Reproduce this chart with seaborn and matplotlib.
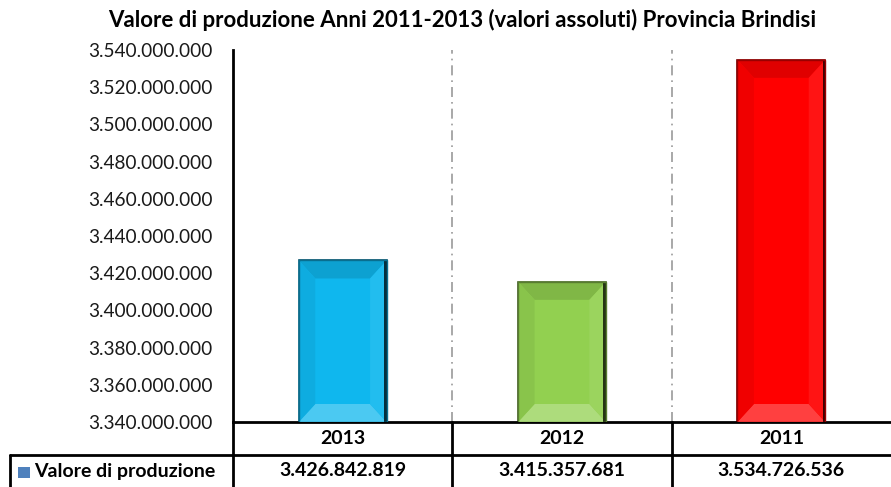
import numpy as np
import pandas as pd
import matplotlib
matplotlib.use("Agg")
import matplotlib.pyplot as plt
import matplotlib.transforms as mtransforms
from matplotlib.lines import Line2D
from matplotlib.patches import Polygon, Rectangle
import seaborn as sns

# ── Data ─────────────────────────────────────────────────
years  = ["2013", "2012", "2011"]
values = [3426842819, 3415357681, 3534726536]
colors = ["#0fb7ee", "#92d050", "#ff0000"]
series_name = "Valore di produzione"
title = "Valore di produzione Anni 2011-2013 (valori assoluti) Provincia Brindisi"
y_min, y_max, y_step = 3340000000, 3540000000, 20000000


def it_fmt(v):
    return f"{v:,.0f}".replace(",", ".")


def shade(c, f):
    r, g, b = matplotlib.colors.to_rgb(c)
    if f < 1:
        return (r * f, g * f, b * f)
    return (r + (1 - r) * (f - 1), g + (1 - g) * (f - 1), b + (1 - b) * (f - 1))


sns.set_theme(style="white")
plt.rcParams["font.family"] = ["Lato", "DejaVu Sans"]

df = pd.DataFrame({"anno": years, "valore": values})

fig = plt.figure(figsize=(8.91, 4.87), dpi=100)
ax = fig.add_axes([233/891, 1 - 422/487, 1 - 233/891, (422 - 50)/487])

sns.barplot(data=df, x="anno", y="valore", hue="anno", palette=colors,
            width=0.4, legend=False, ax=ax, saturation=1)

ax.set_ylim(y_min, y_max)
ax.set_xlim(-0.5, len(years) - 0.5)
ax.set_yticks(np.arange(y_min, y_max + 1, y_step))
ax.set_yticklabels([it_fmt(v) for v in np.arange(y_min, y_max + 1, y_step)],
                   fontsize=13.7, color="#1a1a1a")
ax.tick_params(axis="y", length=0, pad=15)
ax.set_xticks([])
ax.set_xlabel(""); ax.set_ylabel("")
ax.spines[["top", "right"]].set_visible(False)
for s in ["left", "bottom"]:
    ax.spines[s].set_color("black")
    ax.spines[s].set_linewidth(2)

# dashed separators between categories
for i in range(1, len(years)):
    ax.axvline(i - 0.5, color="#999999", linestyle=(0, (6, 3, 1, 3)),
               linewidth=1.2, zorder=0)

# bevel effect on bars
bev_x = 0.075
bev_y = (y_max - y_min) * 18 / 372
for bar, c in zip(ax.patches, colors):
    x0, w = bar.get_x(), bar.get_width()
    y0, h = y_min, bar.get_height() - y_min
    x1, y1 = x0 + w, bar.get_height()
    bar.set_edgecolor(shade(c, 0.45))
    bar.set_linewidth(1.2)
    bx = min(bev_x, w / 2)
    by = min(bev_y, h / 2)
    top = Polygon([(x0, y1), (x1, y1), (x1 - bx, y1 - by), (x0 + bx, y1 - by)],
                  closed=True, facecolor=shade(c, 0.88), edgecolor="none", zorder=3)
    bot = Polygon([(x0, y0), (x1, y0), (x1 - bx, y0 + by), (x0 + bx, y0 + by)],
                  closed=True, facecolor=shade(c, 1.25), edgecolor="none", zorder=3)
    left = Polygon([(x0, y0), (x0 + bx, y0 + by), (x0 + bx, y1 - by), (x0, y1)],
                   closed=True, facecolor=shade(c, 0.94), edgecolor="none", zorder=3)
    right = Polygon([(x1, y0), (x1 - bx, y0 + by), (x1 - bx, y1 - by), (x1, y1)],
                    closed=True, facecolor=shade(c, 1.08), edgecolor="none", zorder=3)
    for p in (top, bot, left, right):
        ax.add_patch(p)
    ax.add_patch(Rectangle((x1 - 0.012, y0), 0.012, h, facecolor=shade(c, 0.25),
                           edgecolor="none", zorder=4))
    ax.add_patch(Rectangle((x0, y0), w, h, facecolor="none",
                           edgecolor=shade(c, 0.6), linewidth=1, zorder=5))

# title
fig.text(462/891, 1 - 20/487, title, ha="center", va="center",
         fontsize=16, fontweight="bold", color="black")

# ── Data table ───────────────────────────────────────────
blend = mtransforms.blended_transform_factory(ax.transData, fig.transFigure)
row1_y = 1 - 438.5/487
row2_y = 1 - 471/487
line_top = 1 - 422/487
line_mid = 1 - 455/487

for i, (yr, v) in enumerate(zip(years, values)):
    fig.text(i, row1_y, yr, transform=blend, ha="center", va="center",
             fontsize=14, fontweight="bold", color="black")
    fig.text(i, row2_y, it_fmt(v), transform=blend, ha="center", va="center",
             fontsize=14, fontweight="bold", color="black")

# grid lines of the table
fig.add_artist(Line2D([10/891, 1], [line_mid, line_mid], color="black",
                      linewidth=2, transform=fig.transFigure))
fig.add_artist(Line2D([10/891, 10/891], [0, line_mid], color="black",
                      linewidth=2, transform=fig.transFigure))
for i in range(len(years)):
    fig.add_artist(Line2D([i - 0.5, i - 0.5], [0, line_top],
                          color="black", linewidth=2, transform=blend))

# legend key
fig.add_artist(Rectangle((18/891, 1 - 478/487), 12/891, 11/487,
                         facecolor="#4f81bd", edgecolor="none",
                         transform=fig.transFigure))
fig.text(34/891, row2_y, series_name, ha="left", va="center",
         fontsize=14, fontweight="bold", color="black")

fig.savefig("out.png", dpi=100)
